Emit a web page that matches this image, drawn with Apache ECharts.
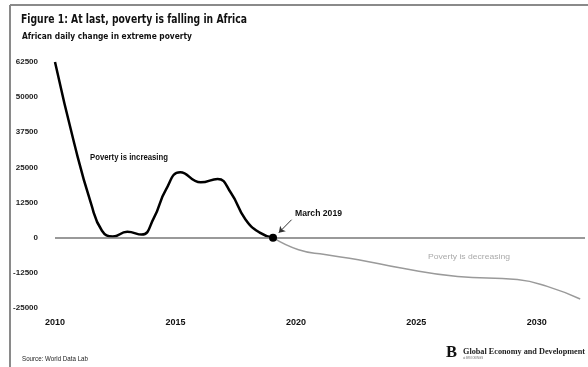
<!DOCTYPE html>
<html><head><meta charset="utf-8">
<script src="https://cdn.jsdelivr.net/npm/echarts@6/dist/echarts.min.js"></script>
<style>html,body{margin:0;padding:0;background:#fff}#c{width:588px;height:367px}</style>
</head><body><div id="c"></div>
<script>
// ---- data ----
const xTickLabels = [2010, 2015, 2020, 2025, 2030];
const yTickLabels = [-25000, -12500, 0, 12500, 25000, 37500, 50000, 62500];
const increasingYears  = [2010.0, 2010.8, 2011.5, 2011.95, 2012.4, 2013.0, 2013.6, 2014.1, 2014.6, 2015.2, 2016.05, 2016.75, 2017.3, 2017.9, 2018.5, 2019.05];
const increasingValues = [62500, 33500, 12000, 2500, 400, 2100, 1100, 7000, 17000, 23300, 19700, 20900, 16000, 6600, 1800, 0];
const decreasingYears  = [2019.05, 2020.11, 2021.2, 2022.59, 2024.37, 2026.71, 2029.19, 2030.43, 2031.8];
const decreasingValues = [0, -4300, -6000, -7800, -10800, -13800, -14900, -17300, -21800];
const marchPoint = [2019.05, 0];
const arrowFrom = [2019.82, 6400];
const arrowTo = [2019.29, 1780];

const ctx = document.createElement('canvas').getContext('2d');
function fit(text, font, target) { ctx.font = font; return target / ctx.measureText(text).width; }
function txt(text, x, y, size, weight, family, fill, width) {
  const font = weight + ' ' + size + 'px ' + family;
  return { type: 'text', x: x, y: y, scaleX: width ? fit(text, font, width) : 1,
    style: { text: text, font: font, fill: fill, verticalAlign: 'middle', align: 'left' } };
}
const SANS = '"Liberation Sans", Arial, sans-serif';
const HEAVY = '"DejaVu Sans", sans-serif';
const SERIF = '"Liberation Serif", "DejaVu Serif", serif';

const chart = echarts.init(document.getElementById('c'), null, { renderer: 'canvas' });
chart.setOption({
  animation: false,
  backgroundColor: '#fff',
  grid: { left: 55, right: 0, top: 62, bottom: 59, containLabel: false },
  xAxis: {
    type: 'value', min: 2010, max: 2032, interval: 5,
    axisLine: { show: false }, axisTick: { show: false }, splitLine: { show: false },
    axisLabel: { fontSize: 9, fontWeight: 'bold', color: '#111', fontFamily: SANS, margin: 10,
      formatter: v => xTickLabels.indexOf(v) >= 0 ? String(v) : '' }
  },
  yAxis: {
    type: 'value', min: yTickLabels[0], max: yTickLabels[yTickLabels.length - 1], interval: 12500,
    axisLine: { show: false }, axisTick: { show: false }, splitLine: { show: false },
    axisLabel: { fontSize: 8, fontWeight: 'bold', color: '#222', fontFamily: SANS, margin: 17,
      formatter: v => String(v) }
  },
  series: [
    {
      type: 'line', name: 'decreasing', z: 2, smooth: 0.5, symbol: 'none',
      data: decreasingYears.map((x, i) => [x, decreasingValues[i]]),
      lineStyle: { color: '#9a9a9a', width: 1.5 },
      markLine: { silent: true, symbol: 'none', label: { show: false },
        lineStyle: { color: '#777', width: 1.5, type: 'solid' },
        data: [{ yAxis: 0 }] }
    },
    {
      type: 'line', name: 'increasing', z: 3, smooth: 0.5, symbol: 'none',
      data: increasingYears.map((x, i) => [x, increasingValues[i]]),
      lineStyle: { color: '#000', width: 2.5 },
      markPoint: { silent: true, symbol: 'circle', symbolSize: 8, itemStyle: { color: '#000' },
        label: { show: false }, data: [{ coord: marchPoint }] },
      markLine: { silent: true, symbol: ['none', 'arrow'], symbolSize: 6, label: { show: false },
        lineStyle: { color: '#333', width: 1, type: 'solid' },
        data: [[{ coord: arrowFrom }, { coord: arrowTo }]] }
    }
  ],
  graphic: [
    { type: 'line', shape: { x1: 10, y1: 5, x2: 588, y2: 5 }, style: { stroke: '#8a8a8a', lineWidth: 2 } },
    { type: 'line', shape: { x1: 10, y1: 5, x2: 10, y2: 367 }, style: { stroke: '#8a8a8a', lineWidth: 2 } },
    txt('Figure 1: At last, poverty is falling in Africa', 21, 20, 13, 'bold', HEAVY, '#111', 226),
    txt('African daily change in extreme poverty', 22, 36.5, 9, 'bold', HEAVY, '#111', 170),
    txt('Poverty is increasing', 90, 158, 8.5, 'bold', SANS, '#111', 78),
    txt('March 2019', 295, 214, 8.5, 'bold', SANS, '#111', 47),
    txt('Poverty is decreasing', 428, 257, 8, 'normal', SANS, '#aaa', 82),
    txt('Source: World Data Lab', 22, 359, 7, 'normal', SANS, '#222', 66),
    txt('B', 446, 353, 16, 'bold', SERIF, '#111', 11),
    txt('Global Economy and Development', 463, 351.5, 8.5, 'bold', SERIF, '#222', 122),
    txt('at BROOKINGS', 463, 358, 4, 'normal', SANS, '#666', 20)
  ]
});
</script></body></html>
